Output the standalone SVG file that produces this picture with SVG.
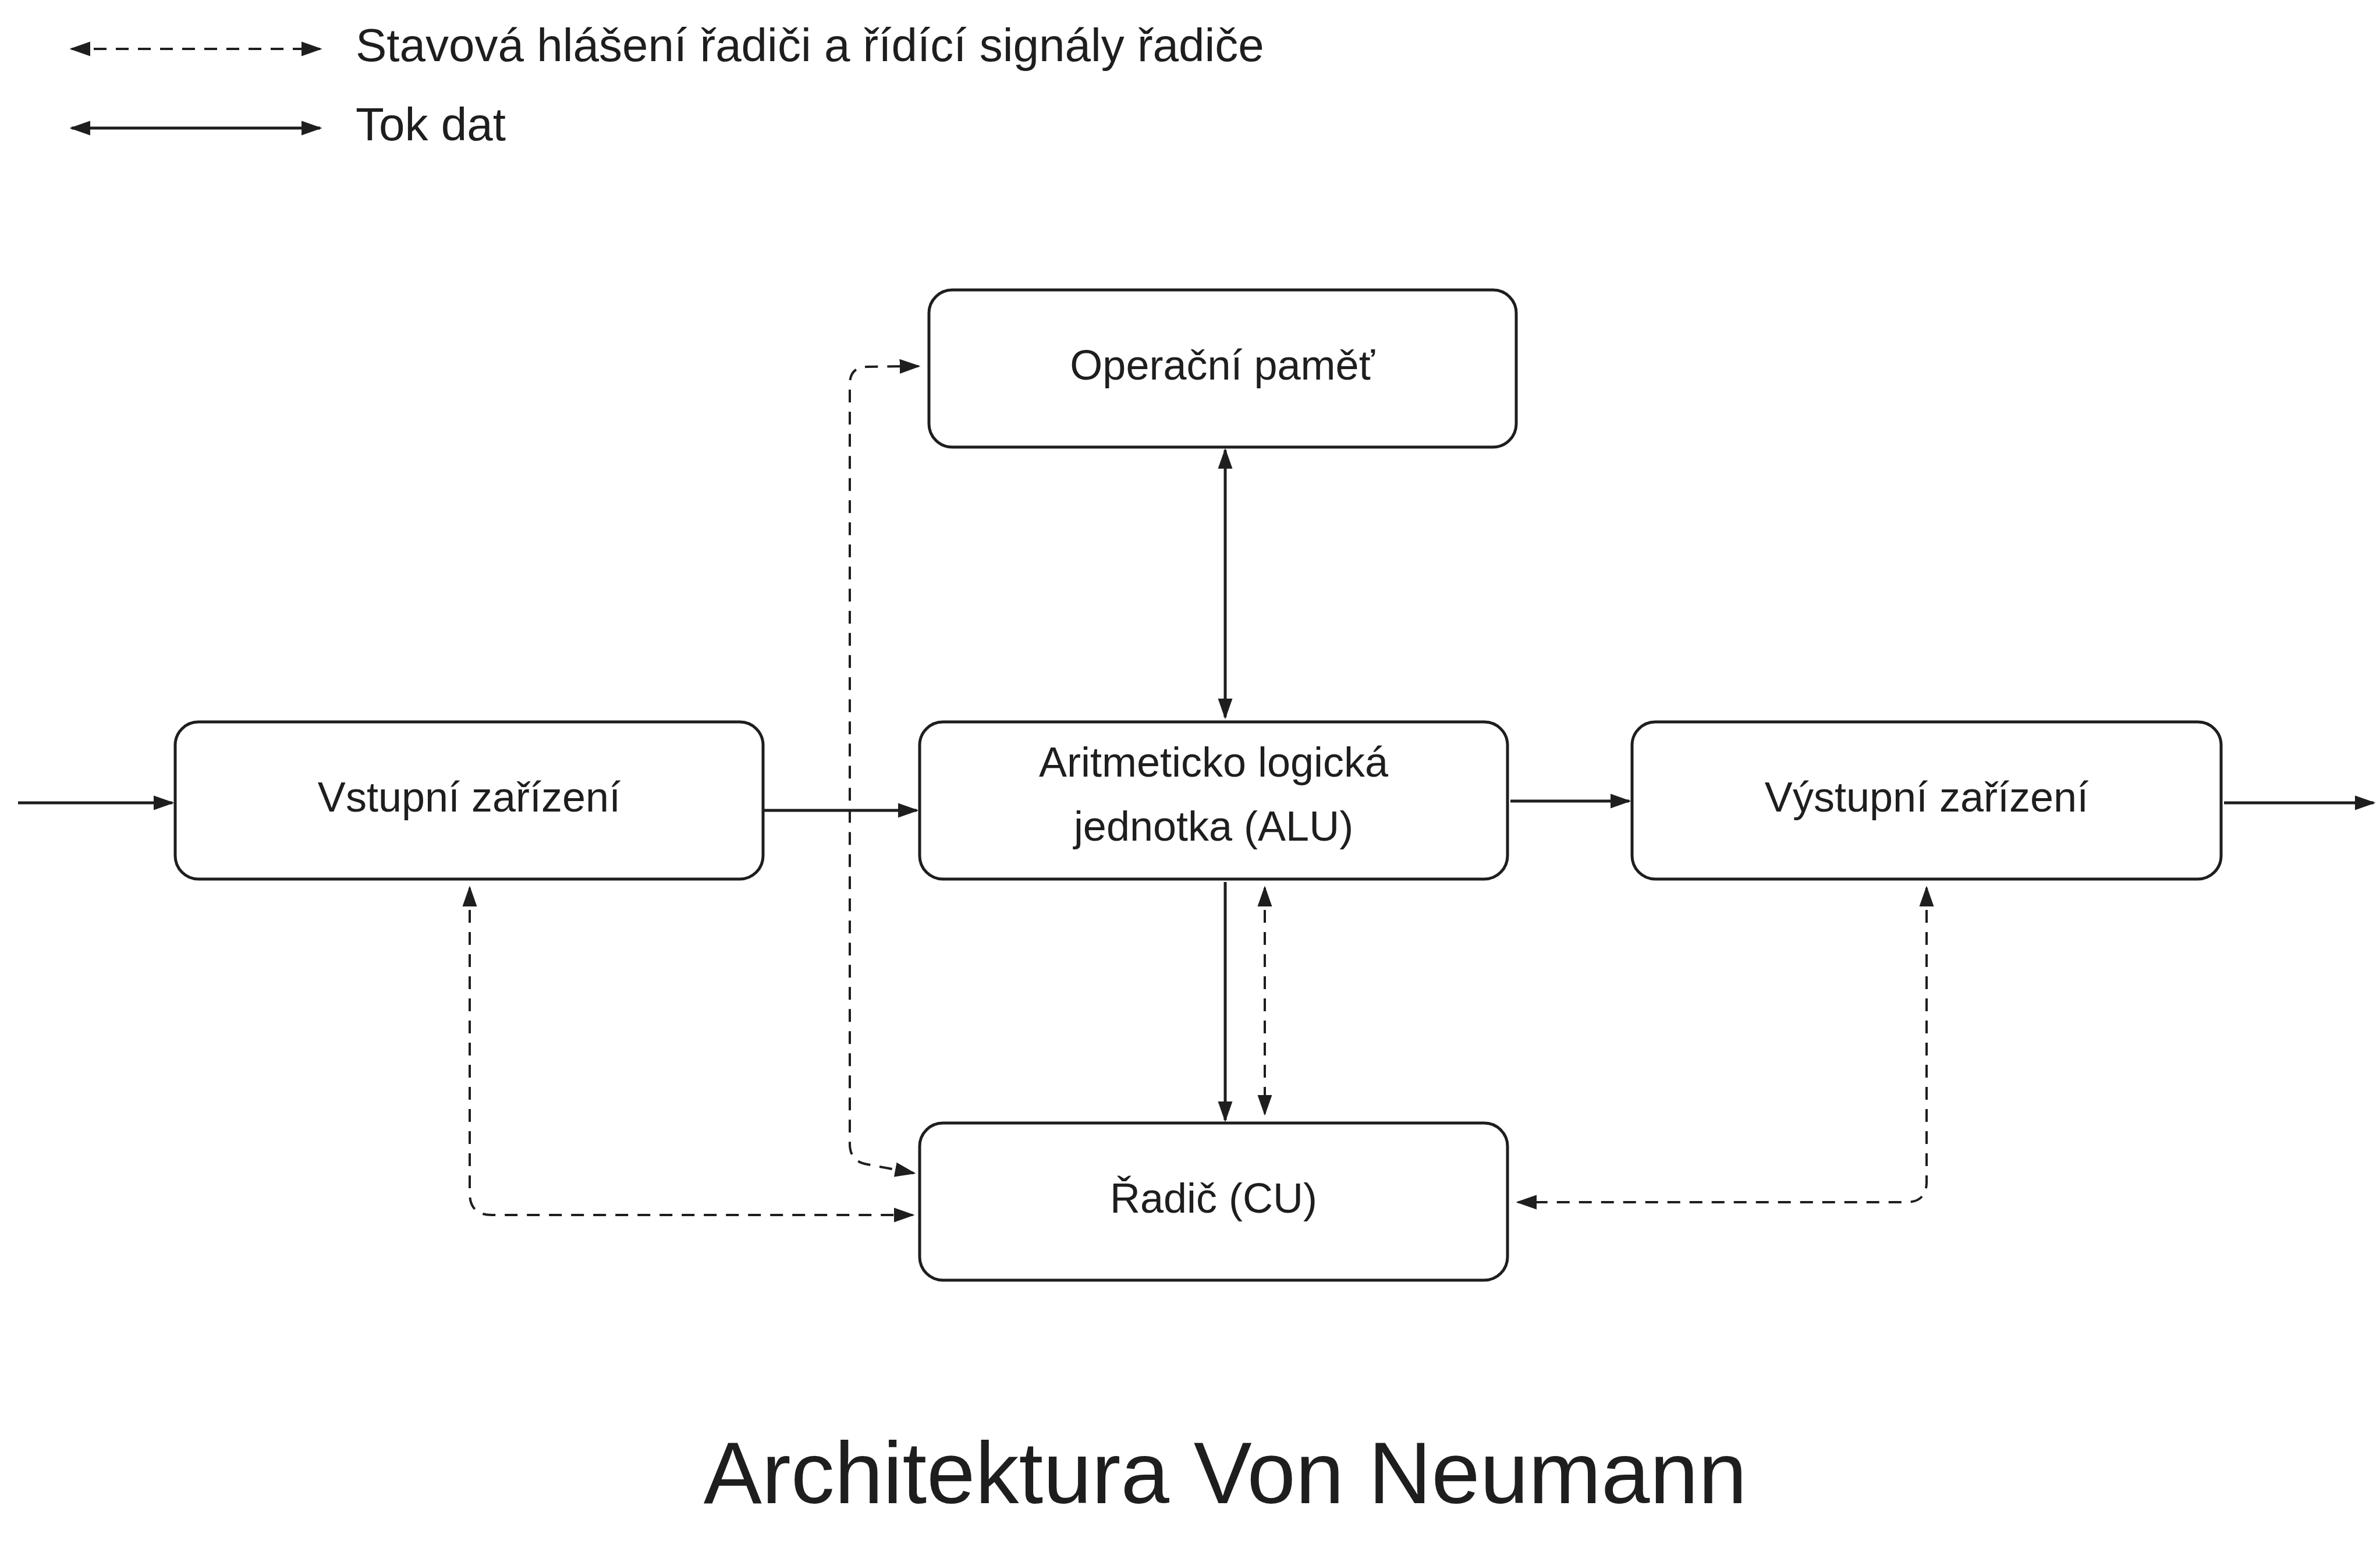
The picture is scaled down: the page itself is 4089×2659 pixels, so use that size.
<svg xmlns="http://www.w3.org/2000/svg" width="4089" height="2659" viewBox="0 0 4089 2659">
<style>
.box{fill:#fff;stroke:#1e1e1e;stroke-width:5}
.t{font-family:"Liberation Sans",sans-serif;font-size:72px;fill:#1e1e1e;text-anchor:middle;dominant-baseline:middle}
.lt{font-family:"Liberation Sans",sans-serif;font-size:80px;fill:#1e1e1e;dominant-baseline:middle}
.s{fill:none;stroke:#1e1e1e;stroke-width:5}
.d{fill:none;stroke:#1e1e1e;stroke-width:4;stroke-dasharray:22 16}
</style>
<defs>
<marker id="a" viewBox="0 0 20 20" refX="18" refY="10" markerWidth="36" markerHeight="36" markerUnits="userSpaceOnUse" orient="auto-start-reverse">
<path d="M0,3 L20,10 L0,17 Z" fill="#1e1e1e"/>
</marker>
</defs>
<rect width="4089" height="2659" fill="#fff"/>
<g id="legend">
<line class="d" x1="123" y1="84" x2="550" y2="84" marker-start="url(#a)" marker-end="url(#a)"/>
<text class="lt" x="611" y="84">Stavová hlášení řadiči a řídící signály řadiče</text>
<line class="s" x1="123" y1="220" x2="550" y2="220" marker-start="url(#a)" marker-end="url(#a)"/>
<text class="lt" x="611" y="220">Tok dat</text>
</g>
<g id="mem"><rect class="box" x="1596" y="498" width="1009" height="270" rx="40"/><text class="t" x="2100" y="633">Operační paměť</text></g>
<g id="in"><rect class="box" x="301" y="1240" width="1010" height="270" rx="40"/><text class="t" x="806" y="1375">Vstupní zařízení</text></g>
<g id="alu"><rect class="box" x="1580" y="1240" width="1010" height="270" rx="40"/><text class="t" x="2085" y="1315">Aritmeticko logická</text><text class="t" x="2085" y="1425">jednotka (ALU)</text></g>
<g id="out"><rect class="box" x="2804" y="1240" width="1012" height="270" rx="40"/><text class="t" x="3310" y="1375">Výstupní zařízení</text></g>
<g id="cu"><rect class="box" x="1580" y="1929" width="1010" height="270" rx="40"/><text class="t" x="2085" y="2064">Řadič (CU)</text></g>
<g id="connectors">
<line class="s" x1="31" y1="1379" x2="296" y2="1379" marker-end="url(#a)"/>
<line class="s" x1="1313" y1="1392" x2="1575" y2="1392" marker-end="url(#a)"/>
<line class="s" x1="2595" y1="1376" x2="2799" y2="1376" marker-end="url(#a)"/>
<line class="s" x1="3821" y1="1379" x2="4078" y2="1379" marker-end="url(#a)"/>
<line class="s" x1="2105" y1="773" x2="2105" y2="1232" marker-start="url(#a)" marker-end="url(#a)"/>
<line class="s" x1="2105" y1="1515" x2="2105" y2="1924" marker-end="url(#a)"/>
<line class="d" x1="2173" y1="1525" x2="2173" y2="1913" marker-start="url(#a)" marker-end="url(#a)"/>
<path class="d" d="M1570,2015 L1490,2000 Q1460,1995 1460,1965 L1460,660 Q1460,630 1490,630 L1578,629" marker-start="url(#a)" marker-end="url(#a)"/>
<path class="d" d="M807,1525 L807,2050 Q807,2087 845,2087 L1568,2087" marker-start="url(#a)" marker-end="url(#a)"/>
<path class="d" d="M3310,1525 L3310,2030 Q3310,2065 3275,2065 L2608,2065" marker-start="url(#a)" marker-end="url(#a)"/>
</g>
<text class="t" x="2105" y="2542" style="font-size:150px">Architektura Von Neumann</text>
</svg>
